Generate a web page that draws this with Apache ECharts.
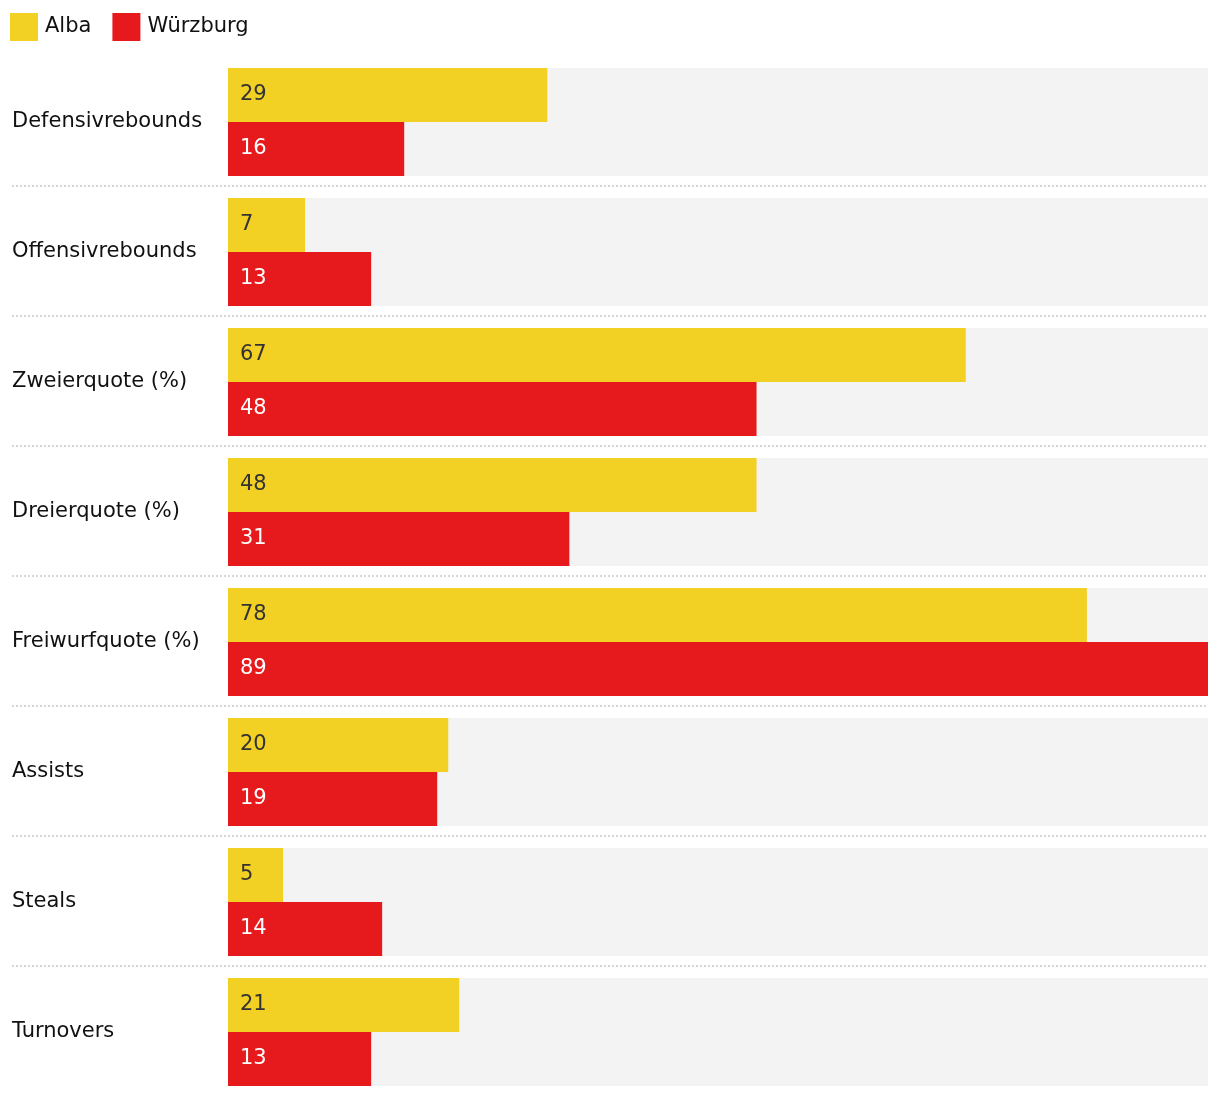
<!DOCTYPE html>
<html>
<head>
<meta charset="utf-8">
<script src="https://cdn.jsdelivr.net/npm/echarts@6/dist/echarts.min.js"></script>
<style>
html,body{margin:0;padding:0;background:#fff;}
#chart{width:1220px;height:1098px;}
</style>
</head>
<body>
<div id="chart"></div>
<script>
const categories = ['Defensivrebounds','Offensivrebounds','Zweierquote (%)','Dreierquote (%)','Freiwurfquote (%)','Assists','Steals','Turnovers'];
const albaValues = [29, 7, 67, 48, 78, 20, 5, 21];
const wuerzburgValues = [16, 13, 48, 31, 89, 19, 14, 13];
const seriesNames = ['Alba', 'Würzburg'];

const FONT = '"DejaVu Sans", sans-serif';
const chart = echarts.init(document.getElementById('chart'));
chart.setOption({
  animation: false,
  backgroundColor: '#ffffff',
  textStyle: { fontFamily: FONT },
  legend: {
    left: 5, top: 8,
    itemWidth: 28, itemHeight: 28, itemGap: 21,
    icon: 'rect',
    textStyle: { fontSize: 21, color: '#111', fontFamily: FONT, padding: [4, 0, 0, 2] },
    data: seriesNames
  },
  grid: [
    { left: 228, right: 12, top: 57, bottom: 1 },
    { left: 12, right: 12, top: 186, height: 780 }
  ],
  xAxis: [
    { gridIndex: 0, type: 'value', min: 0, max: 'dataMax', show: false },
    { gridIndex: 1, type: 'value', min: 0, max: 1, show: false }
  ],
  yAxis: [
    {
      gridIndex: 0, type: 'category', data: categories, inverse: true,
      axisLine: { show: false }, axisTick: { show: false }, splitLine: { show: false },
      axisLabel: { align: 'left', margin: 216, fontSize: 21, color: '#111', fontFamily: FONT, padding: [4, 0, 0, 0] }
    },
    {
      gridIndex: 1, type: 'value', min: 0, max: categories.length - 2, interval: 1,
      axisLine: { show: false }, axisTick: { show: false }, axisLabel: { show: false },
      splitLine: { show: true, lineStyle: { color: '#d6d6d6', width: 2, type: [2, 2] } }
    }
  ],
  series: [
    {
      name: seriesNames[0], type: 'bar', data: albaValues,
      xAxisIndex: 0, yAxisIndex: 0,
      barWidth: 54, barGap: '0%',
      itemStyle: { color: '#f2d024' },
      showBackground: true, backgroundStyle: { color: '#f3f3f3' },
      label: { show: true, position: 'insideLeft', distance: 12, fontSize: 21, color: '#333', fontFamily: FONT }
    },
    {
      name: seriesNames[1], type: 'bar', data: wuerzburgValues,
      xAxisIndex: 0, yAxisIndex: 0,
      barWidth: 54, barGap: '0%',
      itemStyle: { color: '#e61a1c' },
      showBackground: true, backgroundStyle: { color: '#f3f3f3' },
      label: { show: true, position: 'insideLeft', distance: 12, fontSize: 21, color: '#ffffff', fontFamily: FONT }
    }
  ]
});
</script>
</body>
</html>
